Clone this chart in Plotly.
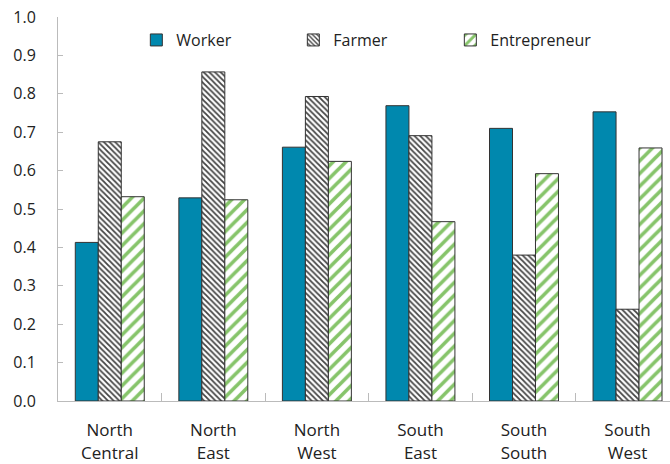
import plotly.graph_objects as go

regions = ["North<br>Central", "North<br>East", "North<br>West", "South<br>East", "South<br>South", "South<br>West"]
worker = [0.413, 0.529, 0.661, 0.769, 0.710, 0.753]
farmer = [0.675, 0.857, 0.793, 0.691, 0.380, 0.239]
entrepreneur = [0.532, 0.524, 0.624, 0.467, 0.592, 0.659]

line = dict(color="#333333", width=1)
fig = go.Figure()
fig.add_trace(go.Bar(x=regions, y=worker, name="Worker",
                     marker=dict(color="#0088AE", line=line)))
fig.add_trace(go.Bar(x=regions, y=farmer, name="Farmer",
                     marker=dict(color="white", line=line,
                                 pattern=dict(shape="\\", fgcolor="#444444", bgcolor="white",
                                              size=4, solidity=0.45, fillmode="replace"))))
fig.add_trace(go.Bar(x=regions, y=entrepreneur, name="Entrepreneur",
                     marker=dict(color="white", line=line,
                                 pattern=dict(shape="/", fgcolor="#86C46A", bgcolor="white",
                                              size=9, solidity=0.4, fillmode="replace"))))

font = dict(family="Open Sans, Noto Sans, sans-serif", size=16, color="#222222")
fig.update_layout(
    width=670, height=464,
    margin=dict(l=58, r=0, t=17, b=63),
    paper_bgcolor="white", plot_bgcolor="white",
    font=font,
    barmode="group", bargap=0.334, bargroupgap=0,
    showlegend=True,
    legend=dict(orientation="h", x=0.128, xanchor="left", y=0.94, yanchor="middle",
                entrywidth=112, entrywidthmode="pixels",
                bgcolor="rgba(0,0,0,0)", font=font),
    xaxis=dict(range=[-0.5, 5.41], showline=True, linecolor="#BBBBBB", linewidth=1,
               ticks="inside", tickson="boundaries", ticklen=8, tickcolor="#BBBBBB",
               showgrid=False, ticklabelstandoff=14,
               tickfont=dict(family="Open Sans, Noto Sans, sans-serif", size=17, color="#222222")),
    yaxis=dict(range=[0, 1], dtick=0.1, tickformat=".1f", showline=True, linecolor="#BBBBBB",
               linewidth=1, ticks="inside", ticklen=5, tickcolor="#BBBBBB",
               showgrid=False, zeroline=False, ticklabelstandoff=18),
)
fig.write_html("out.html")
